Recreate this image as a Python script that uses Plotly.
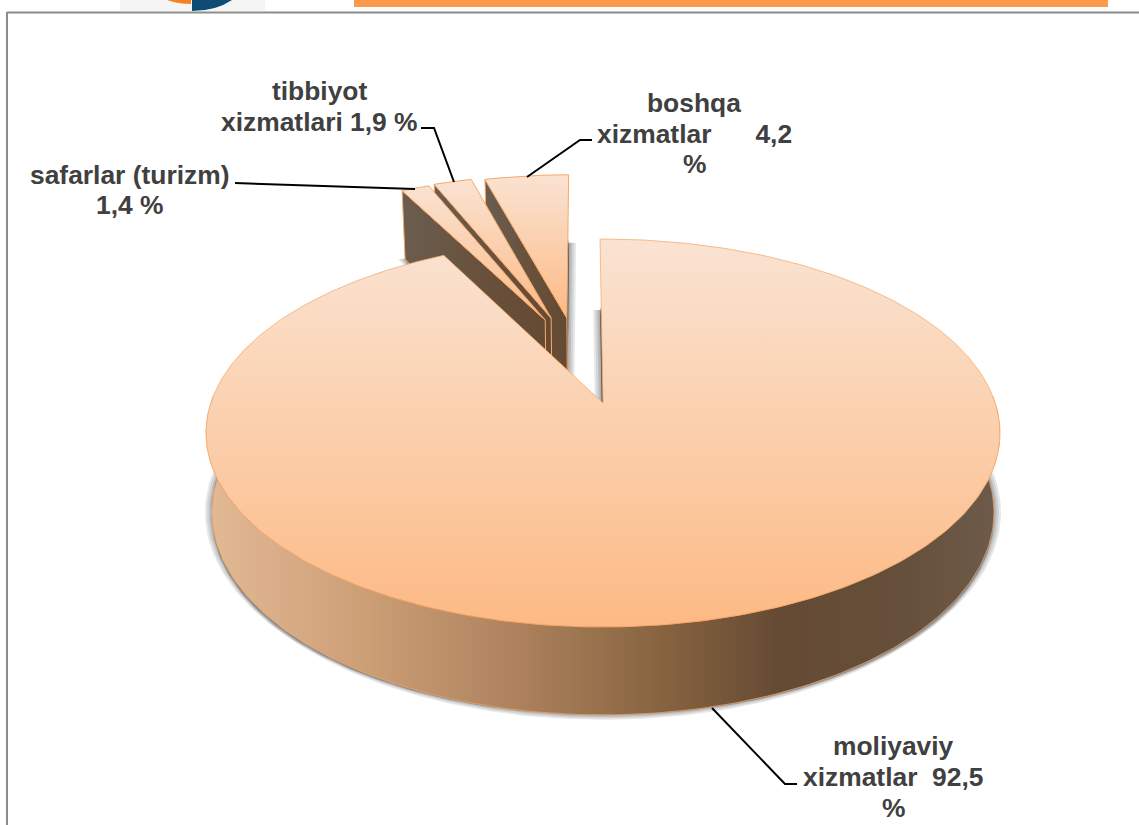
import math
import plotly.graph_objects as go

# data
categories = ["moliyaviy xizmatlar", "safarlar (turizm)", "tibbiyot xizmatlari", "boshqa xizmatlar"]
shares = [92.5, 1.4, 1.9, 4.2]
label_lines = [
    ["moliyaviy", "xizmatlar  92,5", "%"],
    ["safarlar (turizm)", "1,4 %"],
    ["tibbiyot", "xizmatlari 1,9 %"],
    ["boshqa", "xizmatlar      4,2", "%"],
]

# 3d view of the disc (pixels, the axes run 1:1 with the page)
CX, CY = 603, 403
SCALE_X, SCALE_Y, PERSP = 392.2, 189.3, 0.1546
START_DEG = -0.5
BOTTOM_X, BOTTOM_Y, BOTTOM_SHIFT = 0.985, 1.044, 78.1
# how far each slice is pulled out, in disc radii
explode = [(0, 0), (-0.158, 0.470), (-0.142, 0.482), (-0.099, 0.482)]

label_pos = [
    [(893, 746), (893, 777), (893, 808)],
    [(129.5, 175), (129.5, 205)],
    [(319.5, 91), (319.5, 122)],
    [(694, 103), (694, 134), (694, 164)],
]
leaders = [
    [(712, 708), (785, 784), (797, 784)],
    [(235, 183), (415, 189)],
    [(421, 128), (434, 128), (454, 182)],
    [(592, 140), (580, 140), (527, 177)],
]

EDGE = "#F6A868"
TEXT = "#404040"
WALL_SCALE = [[0, "#E2B994"], [0.2, "#CC9E76"], [0.4, "#AB805B"], [0.58, "#85623F"],
              [0.72, "#654A33"], [0.88, "#65503B"], [1, "#6E5B4A"]]
FACE_SCALE = [[0, "#6B5D50"], [0.6, "#68503B"], [1, "#654A33"]]
TOP_SCALE = [[0, "#FAE3D2"], [0.5, "#FBCFAC"], [1, "#FDB984"]]


def project(wx, wy, lower=False):
    w = 1 + PERSP * wy
    x = CX + SCALE_X * wx / w
    y = CY - SCALE_Y * wy / w
    if lower:
        x = CX + (x - CX) * BOTTOM_X
        y = CY + (y - CY) * BOTTOM_Y + BOTTOM_SHIFT
    return x, y


def arc(off, a0, a1, lower=False, steps=120):
    n = max(2, int(abs(a1 - a0) / 360 * steps) + 2)
    pts = []
    for i in range(n):
        a = math.radians(a0 + (a1 - a0) * i / (n - 1))
        pts.append(project(off[0] + math.sin(a), off[1] + math.cos(a), lower))
    return pts


fig = go.Figure()


def poly(pts, **kw):
    xs = [p[0] for p in pts] + [pts[0][0]]
    ys = [p[1] for p in pts] + [pts[0][1]]
    fig.add_trace(go.Scatter(x=xs, y=ys, mode="lines", fill="toself", hoverinfo="skip", **kw))


def shadow(pts):
    for d in (7, 5, 3, 1.5):
        for sx, sy in ((-1, 0), (1, 0), (0, 0.7), (0, -0.4)):
            poly([(x + sx * d, y + sy * d) for x, y in pts],
                 line=dict(width=0), fillcolor="rgba(50,50,50,0.11)")


# slice angles from the shares
spans = []
a = START_DEG
for s in shares:
    spans.append((a, a + s * 3.6))
    a += s * 3.6

# shadows first
a0, a1 = spans[0]
shadow([project(0, 0, True)] + arc((0, 0), a0, a1, True, 360))
for i in (1, 2, 3):
    off = explode[i]
    shadow([project(off[0], off[1], True)] + arc(off, spans[i][0], spans[i][1], True))

# pulled out slices, right one first so the left ones sit on top of its wall
for i in (3, 2, 1):
    off = explode[i]
    a0, a1 = spans[i]
    apex = project(off[0], off[1])
    apex_low = project(off[0], off[1], True)
    outer = project(off[0] + math.sin(math.radians(a0)), off[1] + math.cos(math.radians(a0)))
    outer_low = project(off[0] + math.sin(math.radians(a0)), off[1] + math.cos(math.radians(a0)), True)
    poly([outer, apex, apex_low, outer_low], line=dict(color=EDGE, width=1),
         fillgradient=dict(type="horizontal", colorscale=FACE_SCALE, start=outer[0], stop=apex[0]))
    top = [apex] + arc(off, a0, a1)
    ys = [p[1] for p in top]
    poly(top, line=dict(color=EDGE, width=1),
         fillgradient=dict(type="vertical", colorscale=TOP_SCALE, start=min(ys), stop=max(ys)))

# big slice: wall, then top
a0, a1 = spans[0]
front = arc((0, 0), 88, 272, False, 360)
front_low = arc((0, 0), 272, 88, True, 360)
poly(front + front_low, line=dict(color=EDGE, width=0.75),
     fillgradient=dict(type="horizontal", colorscale=WALL_SCALE, start=210, stop=1000))
top = [project(0, 0)] + arc((0, 0), a0, a1, False, 360)
ys = [p[1] for p in top]
poly(top, line=dict(color=EDGE, width=0.75),
     fillgradient=dict(type="vertical", colorscale=TOP_SCALE, start=min(ys), stop=max(ys)))

# leader lines
for pts in leaders:
    fig.add_trace(go.Scatter(x=[p[0] for p in pts], y=[p[1] for p in pts], mode="lines",
                             line=dict(color="black", width=2), hoverinfo="skip"))

# labels, one annotation per line because the line spacing is wider than plotly's
for lines, positions in zip(label_lines, label_pos):
    for line, (x, y) in zip(lines, positions):
        fig.add_annotation(x=x, y=y, text=line.replace("  ", "&nbsp;&nbsp;"), showarrow=False,
                           xanchor="center", yanchor="middle",
                           font=dict(family="Liberation Sans", size=26.4, color=TEXT, weight="bold"))

# page furniture: frame, header bar, cut off logo
fig.update_layout(shapes=[
    dict(type="rect", x0=120, x1=265, y0=0, y1=11, fillcolor="#F5F5F5", line_width=0, layer="below"),
    dict(type="path", path="M 167 0 Q 178 4 191 4 L 191 0 Z", fillcolor="#F58220", line_width=0),
    dict(type="path", path="M 192 0 L 192 11 Q 216 11 232 0 Z", fillcolor="#0F4C75", line_width=0),
    dict(type="rect", x0=354, x1=1108, y0=0, y1=7, fillcolor="#FB9A4A", line_width=0),
    dict(type="line", x0=7, x1=1139, y0=12.5, y1=12.5, line=dict(color="#8C8C8C", width=2)),
    dict(type="line", x0=7, x1=7, y0=12, y1=825, line=dict(color="#8C8C8C", width=2)),
])

fig.update_layout(
    width=1139,
    height=825,
    margin=dict(l=0, r=0, t=0, b=0),
    showlegend=False,
    paper_bgcolor="white",
    plot_bgcolor="white",
    xaxis=dict(range=[0, 1139], visible=False, fixedrange=True),
    yaxis=dict(range=[825, 0], visible=False, fixedrange=True),
)

fig.write_html("out.html", config={"displayModeBar": False},
               post_script="document.body.style.margin='0';document.body.style.overflow='hidden';")
